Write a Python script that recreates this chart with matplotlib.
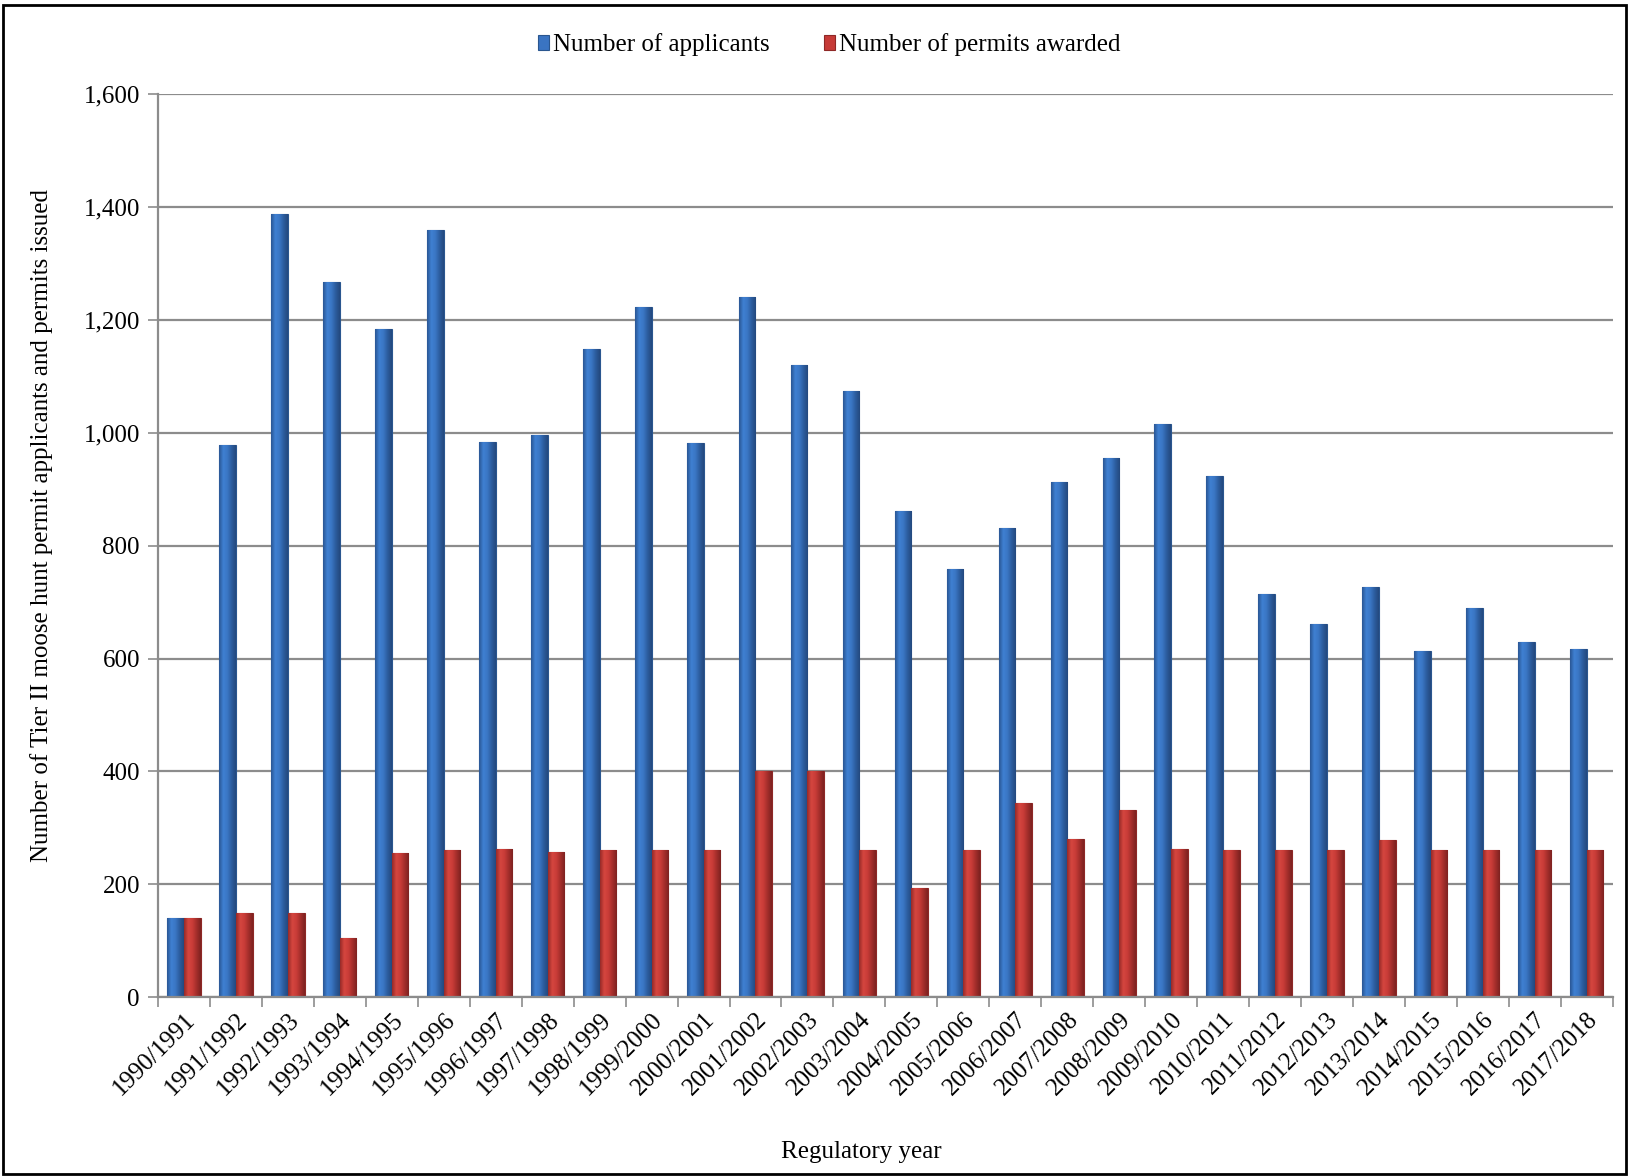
import matplotlib
matplotlib.use("Agg")
import matplotlib.pyplot as plt
import numpy as np
from matplotlib.patches import Rectangle
from matplotlib.colors import LinearSegmentedColormap

years = ["1990/1991", "1991/1992", "1992/1993", "1993/1994", "1994/1995", "1995/1996",
         "1996/1997", "1997/1998", "1998/1999", "1999/2000", "2000/2001", "2001/2002",
         "2002/2003", "2003/2004", "2004/2005", "2005/2006", "2006/2007", "2007/2008",
         "2008/2009", "2009/2010", "2010/2011", "2011/2012", "2012/2013", "2013/2014",
         "2014/2015", "2015/2016", "2016/2017", "2017/2018"]
applicants = [140, 978, 1387, 1267, 1184, 1359, 983, 996, 1149, 1223, 982, 1240,
              1120, 1074, 862, 759, 832, 912, 956, 1015, 923, 715, 661, 727,
              613, 689, 630, 617]
permits = [140, 150, 150, 105, 255, 260, 263, 258, 260, 260, 260, 400,
           400, 260, 193, 260, 345, 280, 332, 263, 260, 260, 260, 278,
           260, 260, 260, 260]
y_ticks = [0, 200, 400, 600, 800, 1000, 1200, 1400, 1600]

plt.rcParams['font.family'] = ['Liberation Serif', 'DejaVu Serif']
FS = 18

fig = plt.figure(figsize=(16.29, 11.76), dpi=100)
ax = fig.add_axes([0.097, 0.152, 0.893, 0.768])

x = np.arange(len(years))
w = 0.32
blue = "#3A74C2"
red = "#C63A37"
b1 = ax.bar(x - w / 2, applicants, w, color=blue, edgecolor="#2A568F", linewidth=0.8,
            label="Number of applicants", zorder=3)
b2 = ax.bar(x + w / 2, permits, w, color=red, edgecolor="#8E2826", linewidth=0.8,
            label="Number of permits awarded", zorder=3)

cm_blue = LinearSegmentedColormap.from_list("b", ["#2A5694", "#3F80D2", "#3A76C4", "#2C5C9E", "#24497E"])
cm_red = LinearSegmentedColormap.from_list("r", ["#962A28", "#D5463F", "#C93C38", "#A32E2B", "#7E2220"])
grad = np.linspace(0, 1, 64).reshape(1, -1)
for bars, cmap in ((b1, cm_blue), (b2, cm_red)):
    for p in bars:
        x0, y0 = p.get_x(), p.get_y()
        im = ax.imshow(grad, cmap=cmap, aspect="auto", zorder=3.5,
                       extent=(x0, x0 + p.get_width(), y0, y0 + p.get_height()),
                       interpolation="bilinear")
        im.set_clip_path(p)

ax.set_xlim(-0.5, len(years) - 0.5)
ax.set_ylim(0, 1600)
ax.set_yticks(y_ticks)
ax.set_yticklabels([f"{v:,}" for v in y_ticks], fontsize=FS)
ax.yaxis.grid(True, color="#8C8C8C", linewidth=1.6, zorder=0)
ax.set_axisbelow(True)

ax.set_xticks(x)
ax.set_xticklabels(years, rotation=45, ha="right", rotation_mode="anchor", fontsize=FS)
ax.tick_params(axis="x", length=0, pad=8)
ax.set_xticks(np.arange(-0.5, len(years)), minor=True)
ax.tick_params(axis="x", which="minor", length=7, color="#8C8C8C", width=1.2)
ax.tick_params(axis="y", length=7, color="#8C8C8C", width=1.2, pad=6)

for s in ["top", "right"]:
    ax.spines[s].set_visible(False)
for s in ["left", "bottom"]:
    ax.spines[s].set_color("#8C8C8C")
    ax.spines[s].set_linewidth(1.6)
    ax.spines[s].set_zorder(4)

ax.set_ylabel("Number of Tier II moose hunt permit applicants and permits issued", fontsize=FS)
ax.yaxis.set_label_coords(-0.072, 0.522)
fig.text(0.529, 0.02, "Regulatory year", fontsize=FS, ha="center", va="center")

ax.legend(loc="center", bbox_to_anchor=(0.509, 0.962), bbox_transform=fig.transFigure,
          ncol=2, frameon=False, fontsize=FS, handlelength=0.45, handleheight=0.55,
          handletextpad=0.15, columnspacing=2.2)

fig.patches.append(Rectangle((0.002, 0.002), 0.996, 0.994, transform=fig.transFigure,
                             fill=False, edgecolor="black", linewidth=2.0))

fig.savefig("out.png", dpi=100, facecolor="white")
